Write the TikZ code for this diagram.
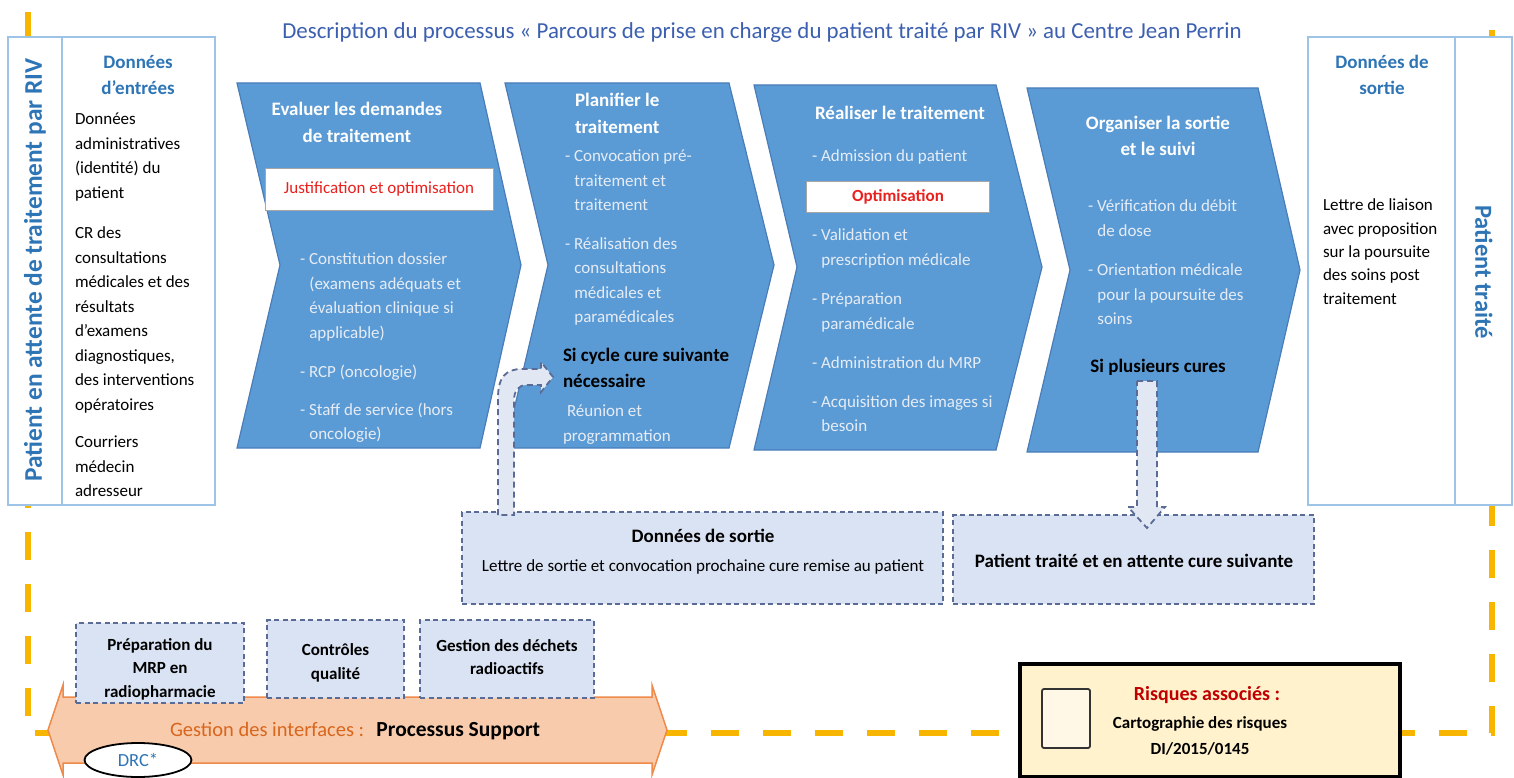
\documentclass[tikz,border=0pt]{standalone}
\usepackage{fontspec}
\setmainfont{Carlito}
\usetikzlibrary{shapes.geometric}

\definecolor{chevblue}{HTML}{5B9BD5}
\definecolor{chevline}{HTML}{4A7DB8}
\definecolor{headblue}{HTML}{2E75B6}
\definecolor{titleblue}{HTML}{3C5FAF}
\definecolor{framebl}{HTML}{9DC3E6}
\definecolor{frameyel}{HTML}{F7B500}
\definecolor{bodylight}{HTML}{E6ECF5}
\definecolor{optred}{HTML}{E8211E}
\definecolor{boxfill}{HTML}{DAE3F3}
\definecolor{boxline}{HTML}{5A6C96}
\definecolor{arrfill}{HTML}{E2E8F3}
\definecolor{supfill}{HTML}{F8CBAD}
\definecolor{supline}{HTML}{EE8A4A}
\definecolor{suptext}{HTML}{D8661C}
\definecolor{riskfill}{HTML}{FFF2CC}
\definecolor{riskred}{HTML}{C00000}

% hanging indent for continuation lines of a dashed item
\newcommand\hang{\hspace*{0.55em}}

% one process step: left x, top-right x, tip x, top y, middle y, bottom y
\newcommand\stepchevron[6]{%
  \path[chevfill] (#1,#4) -- (#2,#4) -- (#3,#5) -- (#2,#6) -- (#1,#6) -- ({#1+43},#5) -- cycle;}

\begin{document}
\begin{tikzpicture}[x=1pt,y=-1pt,
  every node/.style={inner sep=0pt,outer sep=0pt},
  chevfill/.style={fill=chevblue,draw=chevline,line width=1.2},
  sidebox/.style={draw=framebl,fill=white,line width=1.6},
  yellowdash/.style={draw=frameyel,line width=5.5,dash pattern=on 28pt off 24pt},
  headtxt/.style={font=\fontsize{19}{27}\selectfont\bfseries,text=white},
  blackhead/.style={font=\fontsize{19}{26}\selectfont\bfseries,text=black},
  bodytxt/.style={font=\fontsize{17}{24.5}\selectfont,text=bodylight,align=left},
  intxt/.style={font=\fontsize{17}{24.5}\selectfont,text=black,align=left},
  bluehead/.style={font=\fontsize{19}{26}\selectfont\bfseries,text=headblue,align=center},
  optbox/.style={fill=white,draw=black!35,line width=0.8,font=\fontsize{17}{20}\selectfont,text=optred},
  dbox/.style={fill=boxfill,draw=boxline,line width=1.8,dash pattern=on 5pt off 3.5pt},
  blockarrow/.style={fill=arrfill,draw=boxline,line width=1.8,dash pattern=on 6pt off 4pt},
  suptxt/.style={font=\fontsize{17}{23.5}\selectfont\bfseries,align=center}]

\useasboundingbox (0,0) rectangle (1514,778);
\fill[white] (0,0) rectangle (1514,778);

% dashed frame around the whole process
\draw[yellowdash] (28,12) -- (28,733) -- (1492,733) -- (1492,12);

% title
\node[font=\fontsize{22.9}{26}\selectfont,text=titleblue] (title) at (762,33)
  {Description du processus « Parcours de prise en charge du patient traité par RIV » au Centre Jean Perrin};

% input column
\node[sidebox,minimum width=207,minimum height=468,anchor=north west] (inbox) at (8,37) {};
\draw[framebl,line width=1.6] (62,37) -- (62,505);
\node[rotate=90,font=\fontsize{25.4}{28}\selectfont\bfseries,text=headblue] (attente) at (35,270)
  {Patient en attente de traitement par RIV};
\node[bluehead] (inhead) at (138,75) {Données\\d’entrées};
\node[intxt,anchor=north west] (in1) at (75,113) {Données\\administratives\\(identité) du\\patient};
\node[intxt,anchor=north west] (in2) at (75,227) {CR des\\consultations\\médicales et des\\résultats\\d’examens\\diagnostiques,\\des interventions\\opératoires};
\node[intxt,anchor=north west] (in3) at (75,436) {Courriers\\médecin\\adresseur};

% output column
\node[sidebox,minimum width=204,minimum height=468,anchor=north west] (outbox) at (1308,37) {};
\draw[framebl,line width=1.6] (1455,37) -- (1455,505);
\node[bluehead] (outhead) at (1382,75) {Données de\\sortie};
\node[font=\fontsize{17}{23.3}\selectfont,align=left,anchor=north west] (outtxt) at (1323,199)
  {Lettre de liaison\\avec proposition\\sur la poursuite\\des soins post\\traitement};
\node[rotate=-90,font=\fontsize{24.5}{28}\selectfont\bfseries,text=headblue] (traite) at (1484,272)
  {Patient traité};

% the four process steps
\stepchevron{237}{480}{521}{83}{265}{448}
\stepchevron{505}{729}{774}{83}{265}{448}
\stepchevron{754}{996}{1042}{85}{267}{450}
\stepchevron{1027}{1258}{1300}{88}{270}{452}

% step 1
\node[headtxt,align=center] (evalh) at (357,122) {Evaluer les demandes\\de traitement};
\node[optbox,minimum width=228,minimum height=42] (justif) at (379,189) {Justification et optimisation};
\node[bodytxt,anchor=north west] (evalb) at (300,253)
  {- Constitution dossier\\\hang(examens adéquats et\\\hang évaluation clinique si\\\hang applicable)\\[15pt]- RCP (oncologie)\\[13pt]- Staff de service (hors\\\hang oncologie)};

% step 2
\node[headtxt,align=left,anchor=north west] (planh) at (575,93) {Planifier le\\traitement};
\node[bodytxt,anchor=north west] (planb) at (565,150)
  {- Convocation pré-\\\hang traitement et\\\hang traitement\\[14pt]- Réalisation des\\\hang consultations\\\hang médicales et\\\hang paramédicales};
\node[blackhead,align=left,anchor=north west] (sicycle) at (563,348) {Si cycle cure suivante\\nécessaire};
\node[bodytxt,anchor=north west] (reunion) at (563,405) {\hspace*{4pt}Réunion et\\programmation};

% step 3
\node[headtxt] (realh) at (900,113) {Réaliser le traitement};
\node[bodytxt,anchor=north west] (admis) at (812,150) {- Admission du patient};
\node[optbox,minimum width=183,minimum height=31,font=\fontsize{17}{20}\selectfont\bfseries] (optim) at (898,197) {Optimisation};
\node[bodytxt,anchor=north west] (realb) at (812,229)
  {- Validation et\\\hang prescription médicale\\[15pt]- Préparation\\\hang paramédicale\\[15pt]- Administration du MRP\\[14pt]- Acquisition des images si\\\hang besoin};

% step 4
\node[headtxt,align=center,font=\fontsize{19}{26}\selectfont\bfseries] (orgh) at (1158,136) {Organiser la sortie\\et le suivi};
\node[bodytxt,anchor=north west] (orgb) at (1088,200)
  {- Vérification du débit\\\hang de dose\\[15pt]- Orientation médicale\\\hang pour la poursuite des\\\hang soins};
\node[blackhead] (plusieurs) at (1158,367) {Si plusieurs cures};

% outputs of a cycle
\node[dbox,minimum width=481,minimum height=92] (sortie) at (702.5,558) {};
\node[font=\fontsize{19}{22}\selectfont\bfseries] (sortieh) at (703,536) {Données de sortie};
\node[font=\fontsize{17}{20}\selectfont] (sortieb) at (703,567) {Lettre de sortie et convocation prochaine cure remise au patient};
\node[dbox,minimum width=361,minimum height=89] (suivante) at (1133.5,559.5) {};
\node[font=\fontsize{19}{22}\selectfont\bfseries] (suivantet) at (1134,561) {Patient traité et en attente cure suivante};

% loop arrows
\path[blockarrow] (498,515) -- (498,398) .. controls (498,378) and (505,369) .. (522,369)
  -- (541,369) -- (541,362) -- (553,377) -- (541,392) -- (541,385) -- (527,385)
  .. controls (518,385) and (514,391) .. (514,401) -- (514,515) -- cycle;
\path[blockarrow] (1137,381) -- (1157,381) -- (1157,507) -- (1165,507) -- (1147,528)
  -- (1128,507) -- (1137,507) -- cycle;

% support processes
\path[fill=supfill,draw=supline,line width=1.5] (48,730) -- (63,685) -- (63,697) -- (652,697)
  -- (652,685) -- (667,730) -- (652,775) -- (652,763) -- (63,763) -- (63,775) -- cycle;
\node[dbox,minimum width=168,minimum height=80] (prep) at (160,663) {};
\node[suptxt] (prept) at (160,669) {Préparation du\\MRP en\\radiopharmacie};
\node[dbox,minimum width=137,minimum height=78] (ctrl) at (335.5,659) {};
\node[suptxt] (ctrlt) at (335.5,663) {Contrôles\\qualité};
\node[dbox,minimum width=174,minimum height=78] (dechets) at (507,659) {};
\node[suptxt] (dechetst) at (507,657) {Gestion des déchets\\radioactifs};
\node[anchor=west,font=\fontsize{20.5}{24}\selectfont] (support) at (170,731)
  {\textcolor{suptext}{Gestion des interfaces :}\hspace{0.6em}{\fontsize{21.5}{24}\selectfont\bfseries Processus Support}};
\node[ellipse,draw=black,fill=white,line width=1.8,minimum width=107,minimum height=34,
  font=\fontsize{18.5}{20}\selectfont,text=headblue] (drc) at (138,760) {DRC*};

% associated risks
\node[draw=black,fill=riskfill,line width=3.5,minimum width=380,minimum height=113,anchor=north west] (risk) at (1020,664) {};
\draw[draw=black!80,fill=riskfill!50,line width=1.8,rounded corners=2] (1042,689) rectangle (1090,748);
\node[font=\fontsize{20}{24}\selectfont\bfseries,text=riskred] (risqt) at (1207,695) {Risques associés :};
\node[font=\fontsize{17}{26}\selectfont\bfseries,align=center] (carto) at (1200,736) {Cartographie des risques\\DI/2015/0145};

\end{tikzpicture}
\end{document}
